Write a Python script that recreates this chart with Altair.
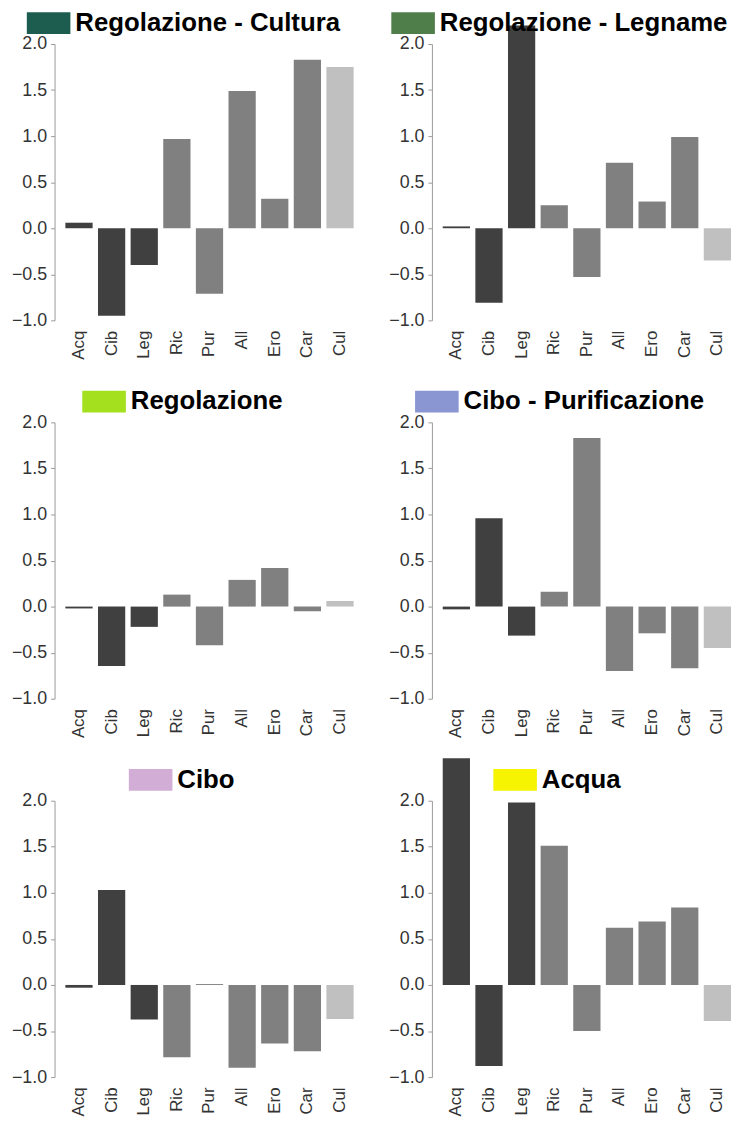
import altair as alt
import pandas as pd

categories = ["Acq", "Cib", "Leg", "Ric", "Pur", "All", "Ero", "Car", "Cul"]
tones = ["dark", "dark", "dark", "mid", "mid", "mid", "mid", "mid", "light"]

panel_names = [
    "Regolazione - Cultura",
    "Regolazione - Legname",
    "Regolazione",
    "Cibo - Purificazione",
    "Cibo",
    "Acqua",
]
swatch_colors = ["#1c5d4f", "#4f7e4b", "#a4e01e", "#8a96d2", "#d2aed6", "#f6f400"]

vals_reg_cultura = [0.06, -0.95, -0.40, 0.97, -0.71, 1.49, 0.32, 1.83, 1.75]
vals_reg_legname = [0.02, -0.81, 2.20, 0.25, -0.53, 0.71, 0.29, 0.99, -0.35]
vals_regolazione = [-0.02, -0.645, -0.22, 0.13, -0.42, 0.29, 0.42, -0.05, 0.06]
vals_cibo_purif = [-0.03, 0.96, -0.315, 0.16, 1.83, -0.70, -0.29, -0.67, -0.45]
vals_cibo = [-0.03, 1.03, -0.375, -0.785, 0.01, -0.90, -0.635, -0.72, -0.37]
vals_acqua = [2.46, -0.88, 1.98, 1.51, -0.50, 0.62, 0.69, 0.84, -0.39]

all_values = [vals_reg_cultura, vals_reg_legname, vals_regolazione,
              vals_cibo_purif, vals_cibo, vals_acqua]

rows = []
for name, vals in zip(panel_names, all_values):
    for c, t, v in zip(categories, tones, vals):
        rows.append({"panel": name, "cat": c, "tone": t, "value": v})
df = pd.DataFrame(rows)

tone_domain = ["dark", "mid", "light"]
tone_range = ["#404040", "#808080", "#c0c0c0"]

swatch_left = [-23, -36, 33, -12, 80, 67]
legend_y = -34
W, H = 306, 279

charts = []
for i, (name, col) in enumerate(zip(panel_names, swatch_colors)):
    base = alt.Chart(df).transform_filter(alt.datum.panel == name)
    xenc = alt.X(
        "cat:N", sort=categories, title=None,
        scale=alt.Scale(paddingInner=0.165, paddingOuter=0.227, align=0.73),
        axis=alt.Axis(labelAngle=270, domain=False, ticks=False, labelPadding=10,
                      labelFontSize=17, labelColor="#333333", labelFont="Liberation Sans"),
    )
    yenc = alt.Y(
        "value:Q", title=None,
        scale=alt.Scale(domain=[-1, 2], nice=False, zero=False),
        axis=alt.Axis(values=[-1, -0.5, 0, 0.5, 1, 1.5, 2], format=".1f", grid=False,
                      domainColor="#9a9a9a", tickColor="#9a9a9a", tickSize=4,
                      labelPadding=4, labelFontSize=18, labelColor="#333333",
                      labelFont="Liberation Sans"),
    )
    bars = base.mark_bar().encode(
        x=xenc, y=yenc,
        color=alt.Color("tone:N", scale=alt.Scale(domain=tone_domain, range=tone_range), legend=None),
    )
    key = base.mark_square(opacity=0).encode(
        x=alt.X("cat:N", sort=categories),
        y=alt.Y("value:Q"),
        fill=alt.Fill(
            "panel:N",
            scale=alt.Scale(domain=[name], range=[col]),
            legend=alt.Legend(
                title=None, orient="none", legendX=swatch_left[i] + 4, legendY=legend_y,
                symbolType="M-2,-1H2V1H-2Z", symbolSize=484,
                symbolOpacity=1, symbolStrokeWidth=0,
                labelFontSize=26, labelFontWeight="bold", labelFont="Liberation Sans",
                labelColor="#000000", labelOffset=14, labelLimit=500, padding=0,
            ),
        ),
    )
    charts.append(alt.layer(bars, key).properties(width=W, height=H))

chart = alt.concat(
    *charts, columns=2, spacing={"row": 103, "column": 75}, bounds="flush"
).resolve_scale(
    fill="independent"
).resolve_legend(
    fill="independent"
).properties(
    padding={"left": 3, "top": -3, "right": 0, "bottom": 0}
).configure(
    background="white"
).configure_view(stroke=None)

chart.save("out.html", embed_options={"renderer": "svg", "actions": False})
